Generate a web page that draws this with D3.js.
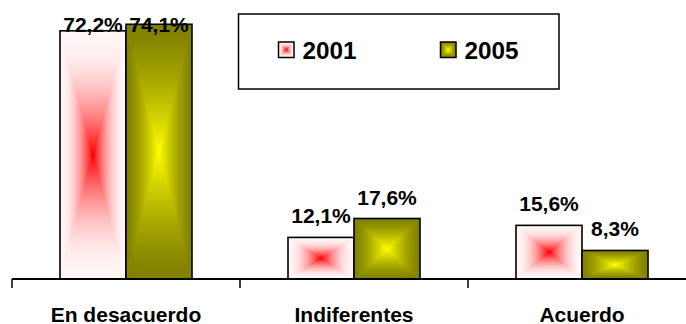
<!DOCTYPE html>
<html>
<head>
<meta charset="utf-8">
<script src="https://cdn.jsdelivr.net/npm/d3@7"></script>
<style>
  html, body { margin: 0; padding: 0; background: #fff; }
  svg { display: block; }
  text { font-family: "Liberation Sans", Arial, sans-serif; font-weight: bold; fill: #000; }
</style>
</head>
<body>
<svg id="chart" width="686" height="324"></svg>
<script>
// Survey answers by year (percent)
const categories = ["En desacuerdo", "Indiferentes", "Acuerdo"];
const seriesNames = ["2001", "2005"];
const values2001 = [72.2, 12.1, 15.6];
const values2005 = [74.1, 17.6, 8.3];

// Rectangular "from centre" gradient colours for each series
const seriesColors = {
  "2001": { edge: "#fff7f8", center: "#ff0000", power: 2.0 },
  "2005": { edge: "#808000", center: "#ffff00", power: 1.4 }
};

const W = 686, H = 324;
const svg = d3.select("#chart");
const defs = svg.append("defs");

const x = d3.scaleBand()
  .domain(categories)
  .range([12, 696])
  .paddingInner(0.4211)
  .paddingOuter(0.2105);

const x1 = d3.scaleBand()
  .domain(seriesNames)
  .range([0, x.bandwidth()]);

const y = d3.scaleLinear().domain([0, 80]).range([279, 4]);

const data = categories.map((c, i) => ({
  category: c,
  values: [
    { series: "2001", value: values2001[i] },
    { series: "2005", value: values2005[i] }
  ]
}));

// Build the gradients: a symmetric horizontal one for the full box,
// and vertical ones (edge -> centre) for the top and bottom wedges.
function edgeToCenterStops(grad, col) {
  const n = 12;
  const interp = d3.interpolateRgb(col.edge, col.center);
  for (let k = 0; k <= n; k++) {
    const t = k / n;
    grad.append("stop")
      .attr("offset", t)
      .attr("stop-color", interp(Math.pow(t, col.power)));
  }
}
seriesNames.forEach(s => {
  const col = seriesColors[s];
  const h = defs.append("linearGradient").attr("id", `g${s}-h`)
    .attr("x1", 0).attr("y1", 0).attr("x2", 1).attr("y2", 0);
  const n = 12;
  const interp = d3.interpolateRgb(col.edge, col.center);
  for (let k = 0; k <= 2 * n; k++) {
    const off = k / (2 * n);
    const t = 1 - Math.abs(off - 0.5) * 2;
    h.append("stop").attr("offset", off).attr("stop-color", interp(Math.pow(t, col.power)));
  }
  const top = defs.append("linearGradient").attr("id", `g${s}-t`)
    .attr("x1", 0).attr("y1", 0).attr("x2", 0).attr("y2", 1);
  edgeToCenterStops(top, col);
  const bot = defs.append("linearGradient").attr("id", `g${s}-b`)
    .attr("x1", 0).attr("y1", 1).attr("x2", 0).attr("y2", 0);
  edgeToCenterStops(bot, col);
});

// Draw a box filled with the centre gradient
function gradientBox(g, s, x0, y0, w, h, strokeW) {
  const cx = x0 + w / 2, cy = y0 + h / 2;
  g.append("rect").attr("x", x0).attr("y", y0).attr("width", w).attr("height", h)
    .attr("fill", `url(#g${s}-h)`);
  g.append("path")
    .attr("d", `M${x0},${y0}L${x0 + w},${y0}L${cx},${cy}Z`)
    .attr("fill", `url(#g${s}-t)`);
  g.append("path")
    .attr("d", `M${x0},${y0 + h}L${x0 + w},${y0 + h}L${cx},${cy}Z`)
    .attr("fill", `url(#g${s}-b)`);
  g.append("rect").attr("x", x0).attr("y", y0).attr("width", w).attr("height", h)
    .attr("fill", "none").attr("stroke", "#000").attr("stroke-width", strokeW);
}

// Bars
const groups = svg.append("g").selectAll("g.cat")
  .data(data).join("g").attr("class", "cat");

groups.each(function(d) {
  const g = d3.select(this);
  d.values.forEach(v => {
    const bx = x(d.category) + x1(v.series);
    const by = y(v.value);
    gradientBox(g.append("g"), v.series, bx, by, x1.bandwidth(), y(0) - by, 1.6);
  });
});

// Value labels
const fmt = v => d3.format(".1f")(v).replace(".", ",") + "%";
groups.each(function(d) {
  const g = d3.select(this);
  d.values.forEach(v => {
    const cx = x(d.category) + x1(v.series) + x1.bandwidth() / 2;
    g.append("text")
      .attr("x", cx)
      .attr("y", Math.max(y(v.value) - 14, 32))
      .attr("text-anchor", "middle")
      .attr("font-size", 21)
      .text(fmt(v.value));
  });
});

// Category axis: baseline plus boundary ticks
const axis = svg.append("g");
axis.append("line")
  .attr("x1", x.range()[0]).attr("x2", W)
  .attr("y1", y(0)).attr("y2", y(0))
  .attr("stroke", "#000").attr("stroke-width", 2);
const boundaries = categories.map(c => x(c) - x.step() * x.paddingInner() / 2)
  .concat([x.range()[1]]);
axis.selectAll("line.tick").data(boundaries).join("line")
  .attr("class", "tick")
  .attr("x1", d => d).attr("x2", d => d)
  .attr("y1", y(0)).attr("y2", y(0) + 9)
  .attr("stroke", "#000").attr("stroke-width", 1.5);
axis.selectAll("text.cat").data(categories).join("text")
  .attr("class", "cat")
  .attr("x", d => x(d) + x.bandwidth() / 2)
  .attr("y", 321.5)
  .attr("text-anchor", "middle")
  .attr("font-size", 21)
  .text(d => d);

// Legend
const legend = svg.append("g");
legend.append("rect")
  .attr("x", 238.5).attr("y", 14).attr("width", 320.5).attr("height", 75)
  .attr("fill", "#fff").attr("stroke", "#000").attr("stroke-width", 1.5);
const legendX = [278.5, 440.5];
seriesNames.forEach((s, i) => {
  gradientBox(legend.append("g"), s, legendX[i], 42, 15.5, 15.5, 1.5);
  legend.append("text")
    .attr("x", legendX[i] + 24)
    .attr("y", 59)
    .attr("font-size", 24.3)
    .text(s);
});
</script>
</body>
</html>
